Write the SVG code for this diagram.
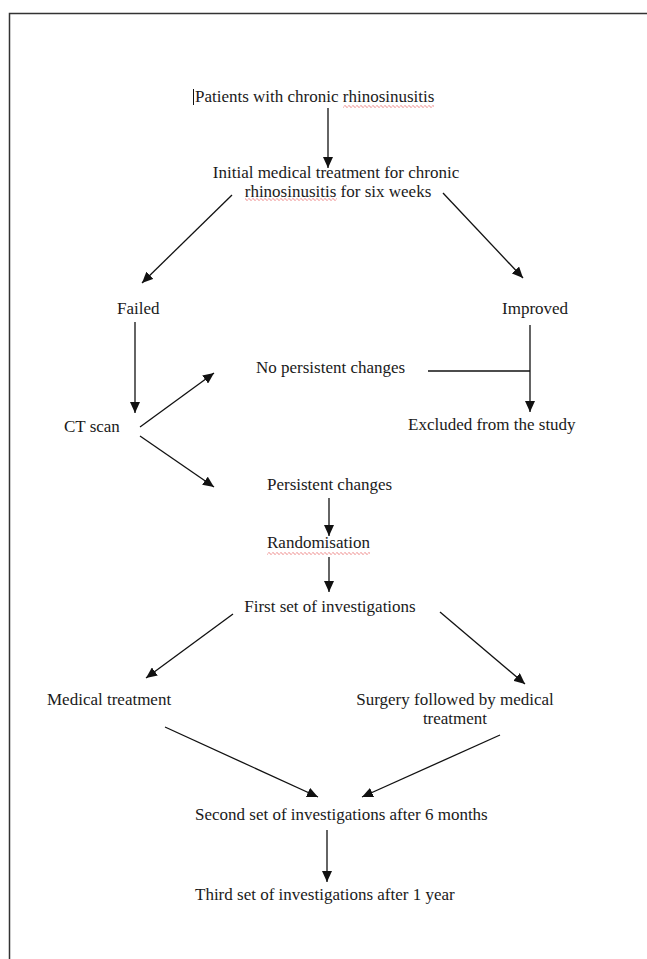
<svg xmlns="http://www.w3.org/2000/svg" width="647" height="959" viewBox="0 0 647 959">
<style>
text{font-family:"Liberation Serif","Times New Roman",serif;font-size:17px;fill:#1a1a1a}
.m{text-anchor:middle}
.c{stroke:#111;stroke-width:1.3;fill:none}
.a{marker-end:url(#ah)}
.sq{fill:url(#wave)}
</style>
<defs>
<marker id="ah" markerUnits="userSpaceOnUse" markerWidth="12" markerHeight="10" refX="11" refY="5" orient="auto">
<path d="M0,0 L11,5 L0,10 Z" fill="#111"/>
</marker>
<pattern id="wave" width="4" height="3" patternUnits="userSpaceOnUse">
<path d="M0,1.5 Q1,-0.5 2,1.5 T4,1.5" fill="none" stroke="#e23b3b" stroke-width="0.7"/>
</pattern>
</defs>
<rect width="647" height="959" fill="#fff"/>
<path d="M9.5,959 V13.5 H647" fill="none" stroke="#333" stroke-width="1.5"/>

<g id="connectors">
<line class="c a" x1="328" y1="108" x2="328" y2="168"/>
<line class="c a" x1="232" y1="195" x2="142" y2="283"/>
<line class="c a" x1="443" y1="193" x2="523" y2="278"/>
<line class="c a" x1="135" y1="322" x2="135" y2="413"/>
<line class="c a" x1="140" y1="427" x2="214" y2="373"/>
<line class="c a" x1="140" y1="436" x2="214" y2="487"/>
<polyline class="c" points="428,371 530,371"/>
<line class="c a" x1="530" y1="325" x2="530" y2="412"/>
<line class="c a" x1="329" y1="498" x2="329" y2="536"/>
<line class="c a" x1="329" y1="557" x2="329" y2="592"/>
<line class="c a" x1="233" y1="614" x2="146" y2="678"/>
<line class="c a" x1="440" y1="612" x2="525" y2="684"/>
<line class="c a" x1="165" y1="727" x2="318" y2="797"/>
<line class="c a" x1="500" y1="735" x2="362" y2="797"/>
<line class="c a" x1="327" y1="830" x2="327" y2="882"/>
</g>

<g id="patients">
<line x1="193.5" y1="89" x2="193.5" y2="105" stroke="#111" stroke-width="1"/>
<text x="195" y="102">Patients with chronic rhinosinusitis</text>
<rect class="sq" x="343" y="105" width="91" height="3"/>
</g>
<g id="initial">
<text class="m" x="336" y="178">Initial medical treatment for chronic</text>
<text class="m" x="338" y="197">rhinosinusitis for six weeks</text>
<rect class="sq" x="245" y="198" width="92" height="3"/>
</g>
<g id="failed"><text x="117" y="314">Failed</text></g>
<g id="improved"><text x="502" y="314">Improved</text></g>
<g id="ctscan"><text x="64" y="432">CT scan</text></g>
<g id="nopersistent"><text x="256" y="373">No persistent changes</text></g>
<g id="excluded"><text x="408" y="430">Excluded from the study</text></g>
<g id="persistent"><text x="267" y="490">Persistent changes</text></g>
<g id="randomisation">
<text x="267" y="548">Randomisation</text>
<rect class="sq" x="267" y="552" width="103" height="3"/>
</g>
<g id="first"><text class="m" x="330" y="612">First set of investigations</text></g>
<g id="medical"><text x="47" y="705">Medical treatment</text></g>
<g id="surgery">
<text class="m" x="455" y="705">Surgery followed by medical</text>
<text class="m" x="455" y="724">treatment</text>
</g>
<g id="second"><text x="195" y="820">Second set of investigations after 6 months</text></g>
<g id="third"><text x="195" y="900">Third set of investigations after 1 year</text></g>
</svg>
